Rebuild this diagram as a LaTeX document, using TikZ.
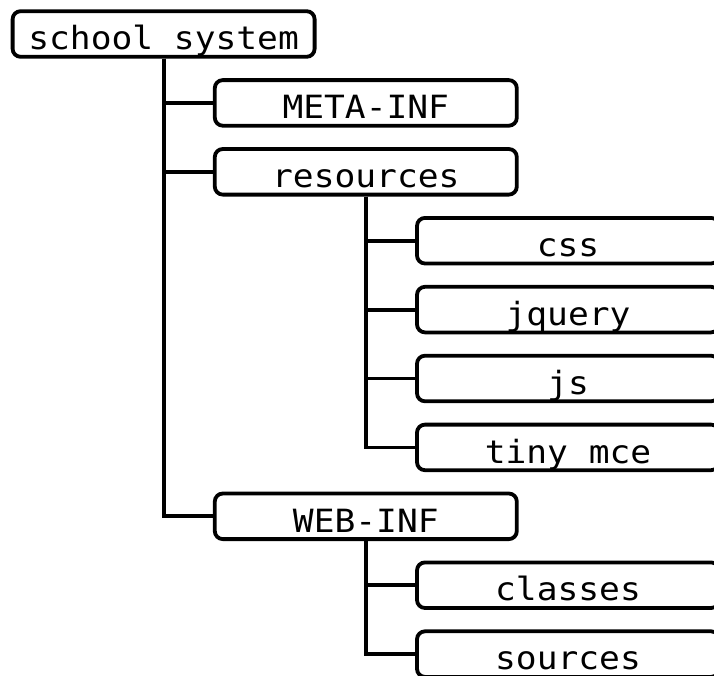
\documentclass[tikz,border=0pt]{standalone}
\usepackage{fontspec}
\newfontfamily\treefont[FakeStretch=1.08]{DejaVu Sans Mono}

\tikzset{
	folder/.style={draw, fill=white, line width=3.8pt, rounded corners=8pt,
		minimum width=302pt, minimum height=45.6pt, inner sep=0pt,
		text height=32pt, text depth=0.6pt,
		font=\treefont\fontsize{32}{32}\selectfont},
	branch/.style={line width=3.8pt}
}

\begin{document}
\begin{tikzpicture}[x=1pt, y=-1pt]

	\useasboundingbox (0, 0) rectangle (714, 675);
	\clip (0, 0) rectangle (714, 675);

	\foreach \n/\t/\c [count=\r from 0] in {root/school system/0, meta/META-INF/1,
		resources/resources/1, css/css/2, jquery/jquery/2, js/js/2, tinymce/tiny mce/2,
		webinf/WEB-INF/1, classes/classes/2, sources/sources/2}
		\node [folder] (\n) at (163.6 + 202.2*\c, 34 + 68.9*\r) {\t};

	\foreach \p/\c in {root/meta, root/resources, root/webinf,
		resources/css, resources/jquery, resources/js, resources/tinymce,
		webinf/classes, webinf/sources}
		\draw [branch] (\p.south) |- (\c.west);

\end{tikzpicture}
\end{document}
